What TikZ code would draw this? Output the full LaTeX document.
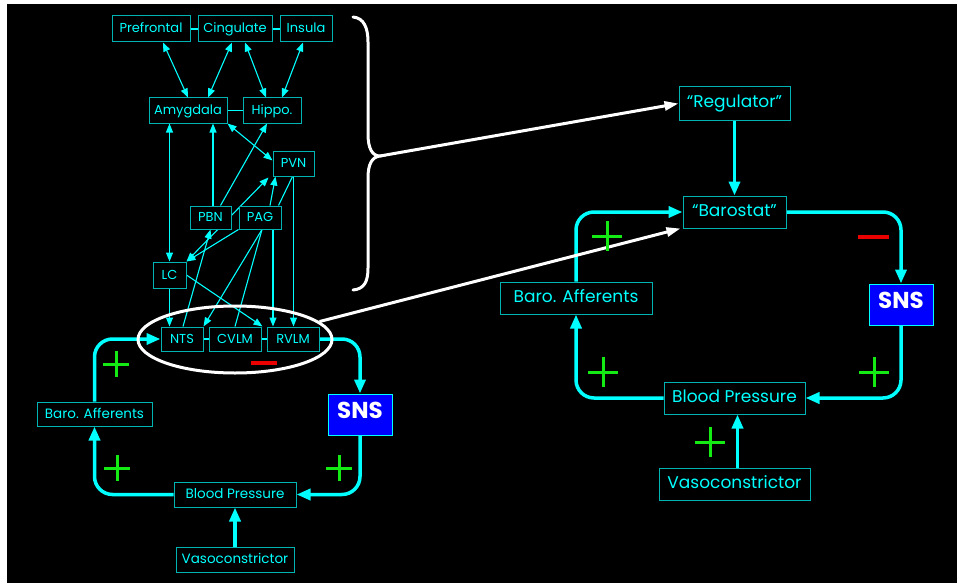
\documentclass[tikz,border=0pt]{standalone}
\usepackage{fontspec}
\setmainfont{Poppins}
\usetikzlibrary{arrows.meta,calc,shapes.geometric}
\definecolor{cy}{RGB}{0,255,255}
\definecolor{boxc}{RGB}{0,180,180}
\definecolor{plusc}{RGB}{20,235,20}
\definecolor{minusc}{RGB}{235,0,0}
\definecolor{snsblue}{RGB}{0,0,255}
\pgfdeclarelayer{back}
\pgfdeclarelayer{edges}
\pgfsetlayers{back,edges,main}

\tikzset{
  sz/.style 2 args={minimum width=#1pt, minimum height=#2pt},
  box/.style={draw=boxc, line width=1pt, fill=black, text=cy, inner sep=0pt,
    text height=0.8em, text depth=0em,
    font=\fontsize{13}{15}\selectfont},
  midbox/.style={box, font=\fontsize{13.5}{16}\selectfont},
  bigbox/.style={box, font=\fontsize{17}{20}\selectfont},
  snsbox/.style={draw=cy, line width=1pt, fill=snsblue, text=white, inner sep=0pt,
    text height=0.76em, text depth=0em,
    minimum width=64pt, minimum height=41pt, font=\fontsize{23}{26}\selectfont\bfseries},
  link/.style={cy, line width=1.1pt},
  arr/.style={link, -{Triangle[length=9pt,width=7pt]}},
  darr/.style={link, {Triangle[length=9pt,width=7pt]}-{Triangle[length=9pt,width=7pt]}},
  loopline/.style={cy, line width=3.5pt, rounded corners=18pt},
  looparr/.style={loopline, -{Triangle[length=14pt,width=11pt]}},
  wline/.style={white, line width=3pt},
  warr/.style={wline, -{Triangle[length=14pt,width=9pt]}},
  plusline/.style={plusc, line width=3pt},
  minusline/.style={minusc, line width=3.5pt},
  pics/pmark/.style={code={\draw[plusline] (-#1,0) -- (#1,0) (0,-#1) -- (0,#1);}},
}

\begin{document}
\begin{tikzpicture}[x=1pt,y=-1pt]
\useasboundingbox (0,0) rectangle (957,583);
\begin{pgfonlayer}{back}
  \fill[white] (0,0) rectangle (957,583);
  \fill[black] (7,4) rectangle (957,583);
\end{pgfonlayer}

% ---------- brain network ----------
\node[box, sz={78}{26}] (pref)   at (151,29)    {Prefrontal};
\node[box, sz={74}{26}] (cing)   at (235,29)    {Cingulate};
\node[box, sz={52}{26}] (insula) at (306,29)    {Insula};
\node[box, sz={78}{25}] (amyg)   at (188,110.5) {Amygdala};
\node[box, sz={58}{25}] (hippo)  at (272,110.5) {Hippo.};
\node[box, sz={41}{25}] (pvn)    at (293.5,163.5) {PVN};
\node[box, sz={41}{23}] (pbn)    at (210.5,217.5) {PBN};
\node[box, sz={42}{23}] (pag)    at (260,217.5) {PAG};
\node[box, sz={33}{26}] (lc)     at (169.5,275) {LC};
\node[box, sz={42}{24}] (nts)    at (182,339)   {NTS};
\node[box, sz={52}{24}] (cvlm)   at (235,339)   {CVLM};
\node[box, sz={52}{24}] (rvlm)   at (293,339)   {RVLM};

% ---------- left loop ----------
\node[midbox, sz={115}{24}] (baroL) at (94.5,414)  {Baro. Afferents};
\node[snsbox]               (snsL)  at (360,414.5) {SNS};
\node[midbox, sz={122}{25}] (bpL)   at (235,494.5) {Blood Pressure};
\node[midbox, sz={118}{25}] (vasoL) at (235,559.5) {Vasoconstrictor};

% ---------- right loop ----------
\node[bigbox, sz={111}{33}] (reg)   at (734.5,103.5) {“Regulator”};
\node[bigbox, sz={103}{32}] (baro)  at (734.5,212)   {“Barostat”};
\node[bigbox, sz={152}{32}] (baroR) at (576,298)     {Baro. Afferents};
\node[snsbox]               (snsR)  at (901,304.5)   {SNS};
\node[bigbox, sz={141}{32}] (bpR)   at (734.5,398)   {Blood Pressure};
\node[bigbox, sz={151}{32}] (vasoR) at (734.5,484)   {Vasoconstrictor};

\begin{pgfonlayer}{edges}
  % side links between neighbouring boxes
  \draw[link] (pref.east) -- (cing.west);
  \draw[link] (cing.east) -- (insula.west);
  \draw[link] (amyg.east) -- (hippo.west);
  \draw[link] (nts.east) -- (cvlm.west);
  \draw[link] (cvlm.east) -- (rvlm.west);

  % cortex <-> limbic
  \draw[darr] ($(pref.south)+(12,0)$) -- (amyg.north);
  \draw[darr] ($(cing.south)+(-3,0)$) -- ($(amyg.north)+(20,0)$);
  \draw[darr] ($(cing.south)+(10,0)$) -- ($(hippo.north)+(-6,0)$);
  \draw[darr] ($(insula.south)+(-3,0)$) -- ($(hippo.north)+(10,0)$);

  % limbic / brainstem
  \coordinate (pbnup) at ($(pbn.north)+(2.5,0)$);
  \coordinate (pagdn) at ($(pag.south)+(13,0)$);
  \draw[darr] (lc.north) -- (lc.north |- amyg.south);
  \draw[arr] (pbnup) -- (pbnup |- amyg.south);
  \draw[arr] ($(pbn.north)+(10,0)$) -- ($(hippo.south)+(-5,0)$);
  \draw[darr] (amyg.south east) -- ($(pvn.west)+(0,-3)$);
  \draw[darr] (lc.north east) -- ($(pvn.south west)+(-4,1)$);
  \draw[arr] ($(pag.north)+(10,0)$) -- ($(pvn.south)+(-18,0)$);
  \draw[link] ($(pvn.south)+(-1,0)$) -- ($(pag.north east)+(-3,0)$);
  \draw[arr] (pag.south west) -- (lc.north east);
  \draw[arr] ($(nts.north)+(1,0)$) -- (pbn.south);
  \draw[arr] (lc.south) -- (lc.south |- nts.north);
  \draw[arr] (lc.east) -- ($(rvlm.north west)+(-4,0)$);
  \draw[arr] ($(pag.south)+(2,0)$) -- (nts.north east);
  \draw[link] ($(pag.south)+(2,0)$) -- (cvlm.north);
  \draw[arr] (pagdn) -- (pagdn |- rvlm.north);
  \draw[arr] (pvn.south) -- (pvn.south |- rvlm.north);

  % left feedback loop
  \draw[looparr] (baroL.north) |- (nts.west);
  \draw[looparr] (rvlm.east) -| (snsL.north);
  \draw[looparr] (snsL.south) |- (bpL.east);
  \draw[looparr] (bpL.west) -| (baroL.south);
  \draw[looparr] (vasoL.north) -- (bpL.south);

  % right feedback loop
  \draw[looparr] (reg.south) -- (baro.north);
  \draw[looparr] (baroR.north) |- (baro.west);
  \draw[looparr] (baro.east) -| (snsR.north);
  \draw[looparr] (snsR.south) |- (bpR.east);
  \draw[looparr] (bpR.west) -| (baroR.south);
  \draw[looparr] ($(vasoR.north)+(3,0)$) -- ($(bpR.south)+(3,0)$);

  % brainstem group and higher centres
  \node[draw=white, line width=3pt, ellipse, inner sep=0pt,
        minimum width=194pt, minimum height=67pt] (brain) at (235,339.5) {};
  \coordinate (tip) at (380,156);
  \draw[wline, line cap=round]
    (353,17) .. controls (364,18) and (368,28) .. (368,42)
    -- (368,134) .. controls (368,148) and (372,156) .. (tip)
    .. controls (372,157) and (368,164) .. (368,178)
    -- (368,268) .. controls (368,282) and (364,289) .. (353,290);
  \draw[warr] (tip) -- (reg.west);
  \draw[warr] (brain.12) -- ($(baro.south west)+(-2,0)$);
\end{pgfonlayer}

% signs
\pic at (116,364) {pmark=13};
\pic at (117,468) {pmark=13};
\pic at (339,468) {pmark=13};
\draw[minusline] (251,363) -- (277,363);
\pic at (607,236) {pmark=15};
\pic at (603,372) {pmark=15};
\pic at (874,372) {pmark=15};
\pic at (710,442) {pmark=15};
\draw[minusline] (858,237) -- (889,237);
\end{tikzpicture}
\end{document}
